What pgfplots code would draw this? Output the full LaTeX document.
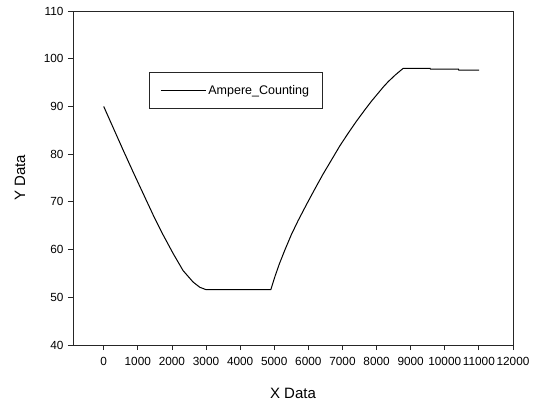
\documentclass[border=0pt]{standalone}
\usepackage{pgfplots}
\pgfplotsset{compat=1.18}
\usepackage{fontspec}
\setmainfont{Liberation Sans}
\begin{document}
\begin{tikzpicture}
\path (-73pt,-60pt) rectangle (463pt,345pt);
\begin{axis}[
  at={(0,0)}, anchor=south west,
  scale only axis, width=440pt, height=334pt,
  xmin=-900, xmax=12000, ymin=40, ymax=110,
  xtick={0,1000,...,12000},
  ytick={40,50,...,110},
  scaled x ticks=false,
  /pgf/number format/1000 sep={},
  /pgf/number format/assume math mode=true,
  tick pos=left, tick align=outside, major tick length=5pt,
  axis line style={black!85, line width=0.8pt},
  every tick/.style={black!85, line width=0.8pt},
  ticklabel style={font=\fontsize{11.8}{13}\selectfont},
  xticklabel style={yshift=-4pt},
  yticklabel style={xshift=-1pt},
  xlabel={X Data}, ylabel={Y Data},
  every axis x label/.style={at={(axis description cs:0.5,-0.1437)}, anchor=center, font=\fontsize{15}{17}\selectfont},
  every axis y label/.style={at={(axis description cs:-0.1205,0.5)}, rotate=90, anchor=center, font=\fontsize{15}{17}\selectfont},
  legend style={at={(0.1727,0.8183)}, anchor=north west, draw=black!85, line width=0.8pt,
    inner xsep=11pt, inner ysep=11pt, font=\fontsize{12.5}{14}\selectfont},
  legend image code/.code={\draw[black, line width=1pt] (0pt,0pt) -- (32pt,0pt); \path (0pt,0pt) -- (45pt,0pt);},
]
\addplot[black, line width=1pt] coordinates {
(0,90.0) (274,85.6) (567,80.9) (860,76.3) (1153,71.8) (1447,67.3) (1740,63.1)
(2034,59.2) (2327,55.6) (2620,53.2) (2817,52.1) (3000,51.6)
(4900,51.6) (5018,54.3) (5150,57.0) (5311,59.9) (5500,63.1) (5702,66.1) (5950,69.5) (6191,72.7)
(6430,75.8) (6680,78.8) (6920,81.7) (7169,84.4) (7410,86.9) (7658,89.3) (7850,91.1) (8049,92.8)
(8200,94.1) (8343,95.2) (8550,96.6) (8783,98.0) (9570,98.0) (9580,97.8)
(10400,97.8) (10410,97.6) (11010,97.6)
};
\addlegendentry{Ampere\_Counting}
\end{axis}
\end{tikzpicture}
\end{document}
